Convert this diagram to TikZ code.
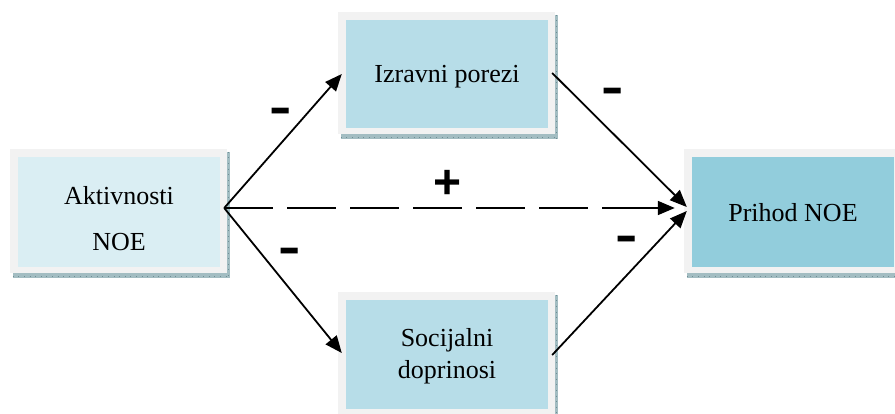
\documentclass[tikz,border=0pt]{standalone}
\usepackage{fontspec}
\setmainfont{Liberation Serif}
\newfontfamily\signfont{Liberation Sans}
\usetikzlibrary{arrows.meta,calc,backgrounds}
\definecolor{framec}{HTML}{F2F2F2}
\definecolor{shadowc}{HTML}{A3BDC2}
\definecolor{tickc}{HTML}{6F8E95}
\definecolor{lightc}{HTML}{DAEEF3}
\definecolor{midc}{HTML}{B7DDE8}
\definecolor{darkc}{HTML}{92CDDC}
\newcommand{\boxtext}[3]{\raisebox{#1}[0pt][0pt]{\fontsize{26}{#2}\selectfont\begin{tabular}{@{}c@{}}#3\end{tabular}}}
\tikzset{
  boxin/.style={inner sep=0pt, minimum width=202pt, align=center, text=black},
  conn/.style={line width=1.8pt, -{Triangle[length=17pt,width=14pt]}},
  dashconn/.style={line width=1.8pt, dash pattern=on 49pt off 14pt},
  sign/.style={font=\signfont\bfseries\fontsize{48}{48}\selectfont, inner sep=0pt}
}
\newcommand{\boxdeco}[1]{%
  \fill[shadowc] ($(#1.north west)+(-5,-5)$) rectangle ($(#1.south east)+(10,11)$);
  \draw[tickc, line width=0.6pt, dash pattern=on 0.6pt off 5pt] ($(#1.south west)+(-5,9.5)$) -- ($(#1.south east)+(10,9.5)$);
  \draw[tickc, line width=0.6pt, dash pattern=on 0.6pt off 5pt] ($(#1.north east)+(8.5,-5)$) -- ($(#1.south east)+(8.5,11)$);
  \fill[framec] ($(#1.north west)+(-8,-8)$) rectangle ($(#1.south east)+(7,6)$);
}
\begin{document}
\begin{tikzpicture}[x=1pt,y=-1pt]
\useasboundingbox (0,0) rectangle (895,414);
\node[boxin, fill=lightc, minimum height=110pt] (akt) at (119,212) {\boxtext{-12.9pt}{46}{Aktivnosti\\NOE}};
\node[boxin, fill=midc, minimum height=108pt] (izr) at (447,74) {\boxtext{-8.1pt}{35}{Izravni porezi}};
\node[boxin, fill=midc, minimum height=109pt] (soc) at (447,354.5) {\boxtext{-7.5pt}{32}{Socijalni\\doprinosi}};
\node[boxin, fill=darkc, minimum height=110pt] (pri) at (793,212) {\boxtext{-9.1pt}{35}{Prihod NOE}};
\begin{scope}[on background layer]
  \boxdeco{akt}
  \boxdeco{izr}
  \boxdeco{soc}
  \boxdeco{pri}
\end{scope}
\coordinate (o) at ($(akt.east)+(4,-4)$);
\coordinate (dmid) at ($(pri.west)+(-66,-4)$);
\draw[conn] (o) -- ($(izr.west)+(-4,0)$);
\draw[conn] (o) -- ($(soc.west)+(-4,-1.5)$);
\draw[conn] ($(izr.east)+(4,-1)$) -- ($(pri.west)+(-5,-5)$);
\draw[conn] ($(soc.east)+(4,0.5)$) -- ($(pri.west)+(-5,-1)$);
\draw[dashconn] (o) -- (dmid);
\draw[conn] (dmid) -- ($(pri.west)+(-17,-4)$);
\node[sign] (m1) at (281,116) {\scalebox{1.4}[1]{-}};
\node[sign] (m2) at (290,256) {\scalebox{1.4}[1]{-}};
\node[sign] (m3) at (613,96) {\scalebox{1.4}[1]{-}};
\node[sign] (m4) at (627,244) {\scalebox{1.4}[1]{-}};
\node[sign] (p1) at (448,184) {+};
\end{tikzpicture}
\end{document}
